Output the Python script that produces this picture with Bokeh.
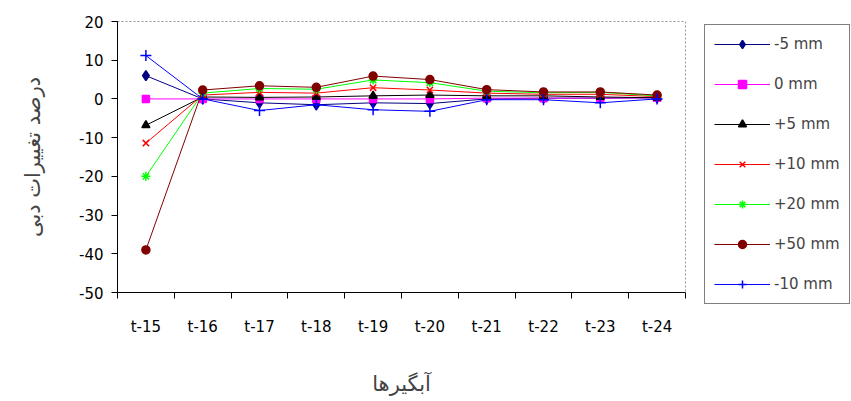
from bokeh.plotting import figure
from bokeh.layouts import row, column
from bokeh.models import FixedTicker, Range1d, Legend, LegendItem
from bokeh.embed import file_html
from bokeh.resources import INLINE

categories = ["t-15", "t-16", "t-17", "t-18", "t-19", "t-20", "t-21", "t-22", "t-23", "t-24"]
series_names = ["-5 mm", "0 mm", "+5 mm", "+10 mm", "+20 mm", "+50 mm", "-10 mm"]
s_m5 = [6.0, 0.0, -1.0, -1.5, -1.0, -1.2, 0.0, 0.2, 0.2, 0.3]
s_0 = [0.0, 0.0, 0.0, 0.0, 0.0, 0.0, 0.2, 0.2, 0.2, 0.3]
s_p5 = [-6.8, 0.5, 0.4, 0.5, 0.8, 1.0, 0.8, 0.8, 0.5, 0.3]
s_p10 = [-11.4, 1.0, 1.7, 1.5, 2.9, 2.3, 1.5, 1.2, 1.2, 0.6]
s_p20 = [-20.0, 1.5, 2.7, 2.5, 4.9, 4.2, 2.0, 1.6, 1.7, 0.8]
s_p50 = [-39.0, 2.3, 3.4, 3.0, 5.9, 5.0, 2.4, 1.8, 1.8, 1.0]
s_m10 = [11.2, 0.0, -3.0, -1.5, -2.8, -3.2, -0.2, -0.2, -1.0, 0.0]
y_ticks = [20, 10, 0, -10, -20, -30, -40, -50]
y_tick_labels = ["20", "10", "0", "-10", "-20", "-30", "-40", "-50"]

series = [s_m5, s_0, s_p5, s_p10, s_p20, s_p50, s_m10]
colors = ["#000080", "#FF00FF", "#000000", "#FF0000", "#00FF00", "#800000", "#0000FF"]
markers = ["diamond", "square", "triangle", "x", "asterisk", "circle", "cross"]
msizes = [10, 7, 8, 9, 9, 8, 11]
leg_sizes = [8, 6, 7, 8, 8, 6, 9]

xs = list(range(len(categories)))

p = figure(width=702, height=401, output_backend="svg", toolbar_location=None,
           x_range=Range1d(-0.5, len(categories) - 0.5), y_range=Range1d(-50, 20),
           min_border_left=117, min_border_right=17, min_border_top=21, min_border_bottom=109)
p.xgrid.visible = False
p.ygrid.visible = False
p.outline_line_color = "#999999"
p.outline_line_dash = "2 2"
p.background_fill_color = "white"
p.border_fill_color = "white"

for name, ys, c, m, s in zip(series_names, series, colors, markers, msizes):
    p.line(xs, ys, line_color=c, line_width=1)
    p.scatter(xs, ys, marker=m, size=s, line_color=c, fill_color=c, line_width=1.5)

# x axis: labels at category centres, ticks at boundaries
xa = p.xaxis[0]
xa.ticker = FixedTicker(ticks=xs, minor_ticks=[i - 0.5 for i in range(len(categories) + 1)])
xa.major_label_overrides = {i: c for i, c in enumerate(categories)}
xa.major_tick_out = 0
xa.major_tick_in = 0
xa.minor_tick_out = 6
xa.minor_tick_in = 0
xa.minor_tick_line_color = "black"
xa.axis_line_color = "black"
xa.major_label_text_font = "DejaVu Sans"
xa.major_label_text_font_size = "15px"
xa.major_label_text_color = "black"
xa.major_label_standoff = 19
xa.axis_label = "آبگیرها"
xa.axis_label_text_font = "DejaVu Sans"
xa.axis_label_text_font_style = "normal"
xa.axis_label_text_font_size = "21px"
xa.axis_label_standoff = 33

ya = p.yaxis[0]
ya.ticker = FixedTicker(ticks=y_ticks)
ya.major_label_overrides = {t: l for t, l in zip(y_ticks, y_tick_labels)}
ya.major_tick_out = 6
ya.major_tick_in = 0
ya.minor_tick_out = 0
ya.minor_tick_in = 0
ya.axis_line_color = "black"
ya.major_tick_line_color = "black"
ya.major_label_text_font = "DejaVu Sans"
ya.major_label_text_font_size = "15px"
ya.major_label_text_color = "black"
ya.major_label_standoff = 8
ya.axis_label = "درصد تغییرات دبی"
ya.axis_label_text_font = "DejaVu Sans"
ya.axis_label_text_font_style = "normal"
ya.axis_label_text_font_size = "21px"
ya.axis_label_standoff = 31

# legend panel (separate figure to the right, partly cut off like the reference)
q = figure(width=149, height=401, output_backend="svg", toolbar_location=None,
           x_range=Range1d(0, 1), y_range=Range1d(0, 1),
           min_border_left=2, min_border_right=0, min_border_top=0, min_border_bottom=0)
q.axis.visible = False
q.grid.visible = False
q.outline_line_color = None
q.background_fill_color = "white"
q.border_fill_color = "white"

nan = float("nan")
items = []
for name, c, m, s in zip(series_names, colors, markers, leg_sizes):
    r1 = q.line([nan], [nan], line_color=c, line_width=1)
    r2 = q.scatter([nan], [nan], marker=m, size=s, line_color=c, fill_color=c, line_width=1.5)
    items.append(LegendItem(label=name, renderers=[r1, r2]))

legend = Legend(items=items, location=(0, 97))
legend.border_line_color = "black"
legend.border_line_width = 1
legend.background_fill_color = "white"
legend.background_fill_alpha = 1
legend.label_text_font = "DejaVu Sans"
legend.label_text_font_size = "15px"
legend.glyph_width = 56
legend.glyph_height = 20
legend.label_height = 20
legend.spacing = 20
legend.padding = 9
legend.margin = 0
legend.label_standoff = 4
q.add_layout(legend, "center")

layout = row(p, column(q, spacing=0), spacing=0)
open("out.html", "w").write(file_html(layout, INLINE))
